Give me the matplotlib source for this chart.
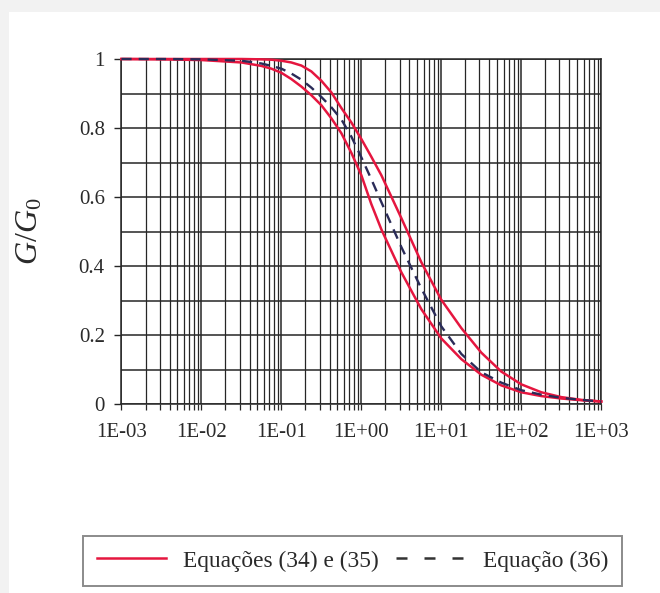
import matplotlib
matplotlib.use("Agg")
import matplotlib.pyplot as plt
from matplotlib.lines import Line2D
from matplotlib.patches import Rectangle
from matplotlib.ticker import LogLocator, FixedLocator, NullFormatter, FixedFormatter

plt.rcParams['font.family'] = ['Liberation Serif', 'DejaVu Serif']
plt.rcParams['mathtext.fontset'] = 'custom'
plt.rcParams['mathtext.it'] = 'Liberation Serif:italic'
plt.rcParams['mathtext.rm'] = 'Liberation Serif'

# shear strain (log axis) and normalised modulus curves
strain = [0.001, 0.00316, 0.01, 0.0316, 0.0562, 0.075, 0.1, 0.133, 0.178,
          0.237, 0.316, 0.422, 0.562, 0.75, 1.0, 1.33, 1.78, 3.16, 5.62,
          10.0, 17.8, 31.6, 56.2, 100.0, 178.0, 316.0, 562.0, 1000.0]
upper_bound = [1.0, 1.0, 1.0, 1.0, 0.999, 0.998, 0.995, 0.990, 0.981,
               0.964, 0.937, 0.903, 0.858, 0.816, 0.768, 0.717, 0.663,
               0.539, 0.411, 0.302, 0.220, 0.149, 0.094, 0.057, 0.034,
               0.020, 0.012, 0.007]
lower_bound = [1.0, 0.999, 0.997, 0.99, 0.98, 0.972, 0.96, 0.942, 0.92,
               0.895, 0.866, 0.828, 0.785, 0.728, 0.663, 0.580, 0.506,
               0.382, 0.275, 0.190, 0.130, 0.085, 0.054, 0.034, 0.023,
               0.016, 0.011, 0.0075]
eq36 = [1.0, 1.0, 0.999, 0.995, 0.987, 0.98, 0.972, 0.958, 0.94,
        0.917, 0.89, 0.86, 0.825, 0.775, 0.715, 0.652, 0.585, 0.455,
        0.335, 0.225, 0.145, 0.092, 0.062, 0.040, 0.027, 0.018, 0.012,
        0.007]

x_ticks = [1e-3, 1e-2, 1e-1, 1e0, 1e1, 1e2, 1e3]
x_tick_labels = ['1E-03', '1E-02', '1E-01', '1E+00', '1E+01', '1E+02', '1E+03']
y_ticks = [0, 0.2, 0.4, 0.6, 0.8, 1.0]
y_tick_labels = ['0', '0.2', '0.4', '0.6', '0.8', '1']
legend_labels = ['Equações (34) e (35)', 'Equação (36)']

RED = '#e5163f'
NAVY = '#2a2b58'
GRID = '#262626'

fig = plt.figure(figsize=(6.6, 5.93), dpi=100, facecolor='#f2f2f2')
fig.patches.append(Rectangle((9 / 660, 0), 1, (593 - 12) / 593,
                             transform=fig.transFigure, facecolor='white',
                             edgecolor='none', zorder=-10))

ax = fig.add_axes([0.184, 0.3187, 0.727, 0.5818])
ax.set_facecolor('white')
ax.set_xscale('log')
ax.set_xlim(1e-3, 1e3)
ax.set_ylim(0, 1)

ax.plot(strain, upper_bound, color=RED, lw=1.8, clip_on=False, zorder=4)
ax.plot(strain, lower_bound, color=RED, lw=1.8, clip_on=False, zorder=4)
ax.plot(strain, eq36, color=NAVY, lw=1.7, dashes=(4.3, 3), clip_on=False,
        zorder=5)

ax.xaxis.set_major_locator(FixedLocator(x_ticks))
ax.xaxis.set_major_formatter(FixedFormatter(x_tick_labels))
ax.xaxis.set_minor_locator(LogLocator(base=10, subs=range(2, 10)))
ax.xaxis.set_minor_formatter(NullFormatter())
ax.yaxis.set_major_locator(FixedLocator(y_ticks))
ax.yaxis.set_major_formatter(FixedFormatter(y_tick_labels))
ax.yaxis.set_minor_locator(FixedLocator([0.1, 0.3, 0.5, 0.7, 0.9]))

ax.grid(which='major', axis='both', color=GRID, lw=1.1)
ax.grid(which='minor', axis='x', color=GRID, lw=0.9)
ax.grid(which='minor', axis='y', color=GRID, lw=1.1)
ax.set_axisbelow(True)

for s in ax.spines.values():
    s.set_color(GRID)
    s.set_linewidth(1.1)

ax.tick_params(axis='x', which='both', direction='out', length=4, width=0.9,
               color=GRID, labelsize=15, labelcolor='#2a2a2a', pad=10)
ax.tick_params(axis='y', which='major', direction='out', length=5, width=1.0,
               color=GRID, labelsize=15, labelcolor='#2a2a2a', pad=7)
ax.tick_params(axis='y', which='minor', length=0)

ax.set_ylabel(r'$\mathit{G/G_0}$', fontsize=23, color='#2a2a2a')
ax.yaxis.set_label_coords(-0.16, 0.5)

handles = [Line2D([], [], color=RED, lw=1.8),
           Line2D([], [], color='#333333', lw=1.8, dashes=(4.4, 6.8))]
leg = fig.legend(handles, legend_labels, loc='center',
                 bbox_to_anchor=(0.534, 0.054), ncol=2, frameon=True,
                 fancybox=False, edgecolor='#6e6e6e', fontsize=16.8,
                 handlelength=2.95, handletextpad=0.75, columnspacing=0.75,
                 borderpad=0.6)
leg.get_frame().set_linewidth(1.4)
for t in leg.get_texts():
    t.set_color('#2a2a2a')

fig.savefig('out.png', dpi=100, facecolor=fig.get_facecolor())
